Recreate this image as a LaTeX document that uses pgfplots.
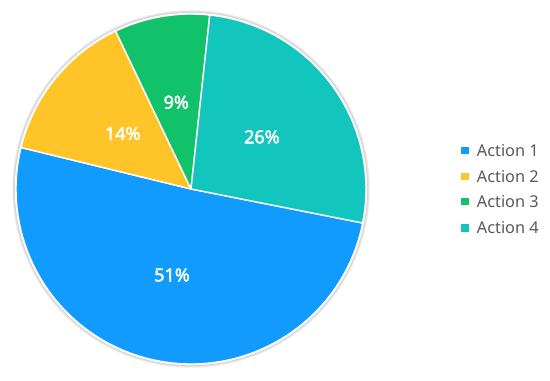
\documentclass[border=0pt]{standalone}
\usepackage{pgfplots}
\usepackage{pgfplotstable}
\pgfplotsset{compat=1.18}
\usepackage{fontspec}
\setmainfont{Noto Sans}
\newfontfamily\lblfont{Noto Sans}[FakeBold=2.2]

\definecolor{c0}{RGB}{18,155,255}
\definecolor{c1}{RGB}{255,197,40}
\definecolor{c2}{RGB}{18,194,106}
\definecolor{c3}{RGB}{18,198,190}
\definecolor{legtext}{RGB}{89,89,89}

\tikzset{
  lbl/.style={text=white, inner sep=0pt, font=\lblfont\fontsize{18bp}{20bp}\selectfont},
  leg/.style={anchor=west, inner sep=0pt, text=legtext, font=\fontsize{16.3bp}{19bp}\selectfont},
}

% share of each action, in percent
\pgfplotstableread{
idx value
0 50.7
1 14.1
2 8.8
3 26.4
}\piedata

\begin{document}
\begin{tikzpicture}
% slice angles: clockwise, first slice starts at -11.2 deg
\def\cur{-11.2}
\pgfplotsforeachungrouped \i in {0,...,3}{%
  \pgfplotstablegetelem{\i}{value}\of\piedata
  \let\v\pgfplotsretval
  \pgfmathsetmacro\nxt{\cur-3.6*\v}
  \pgfmathsetmacro\midang{(\cur+\nxt)/2}
  \pgfmathsetmacro\lx{191+88*cos(\midang)}
  \pgfmathsetmacro\ly{189+88*sin(\midang)}
  \pgfmathtruncatemacro\rv{round(\v)}
  \expandafter\xdef\csname sa\i\endcsname{\cur}
  \expandafter\xdef\csname ea\i\endcsname{\nxt}
  \expandafter\xdef\csname lx\i\endcsname{\lx}
  \expandafter\xdef\csname ly\i\endcsname{\ly}
  \expandafter\xdef\csname rv\i\endcsname{\rv}
  \global\let\cur\nxt
}
\begin{axis}[x=1bp, y=1bp, xmin=0, xmax=550, ymin=0, ymax=378,
  hide axis, clip=false]
  \path (0,0) rectangle (550,378);
  % soft shadow round the pie
  \pgfplotsinvokeforeach{1,...,6}{%
    \draw[black, opacity=0.035, line width=#1bp] (191,189) circle[radius=176bp];
  }
  \pgfplotsinvokeforeach{0,...,3}{%
    \edef\tmp{\noexpand\fill[c#1, draw=white, line width=1.4bp, line join=round]
      (191,189) -- ++(\csname sa#1\endcsname:175bp)
      arc[start angle=\csname sa#1\endcsname, end angle=\csname ea#1\endcsname, radius=175bp] -- cycle;}\tmp
  }
  \draw[white, line width=1.4bp] (191,189) circle[radius=175.5bp];
  \pgfplotsinvokeforeach{0,...,3}{%
    \edef\tmp{\noexpand\node[lbl] at (\csname lx#1\endcsname,\csname ly#1\endcsname) {\csname rv#1\endcsname\noexpand\%};}\tmp
  }
  % legend
  \fill[c0] (461.3,223.6) rectangle ++(7.5bp,7.5bp);
  \fill[c1] (461.3,197.8) rectangle ++(7.5bp,7.5bp);
  \fill[c2] (461.3,172.6) rectangle ++(7.5bp,7.5bp);
  \fill[c3] (461.3,146.3) rectangle ++(7.5bp,7.5bp);
  \node[leg] at (476.7,227.3) {Action 1};
  \node[leg] at (476.7,201.5) {Action 2};
  \node[leg] at (476.7,176.3) {Action 3};
  \node[leg] at (476.7,150.0) {Action 4};
\end{axis}
\end{tikzpicture}
\end{document}
